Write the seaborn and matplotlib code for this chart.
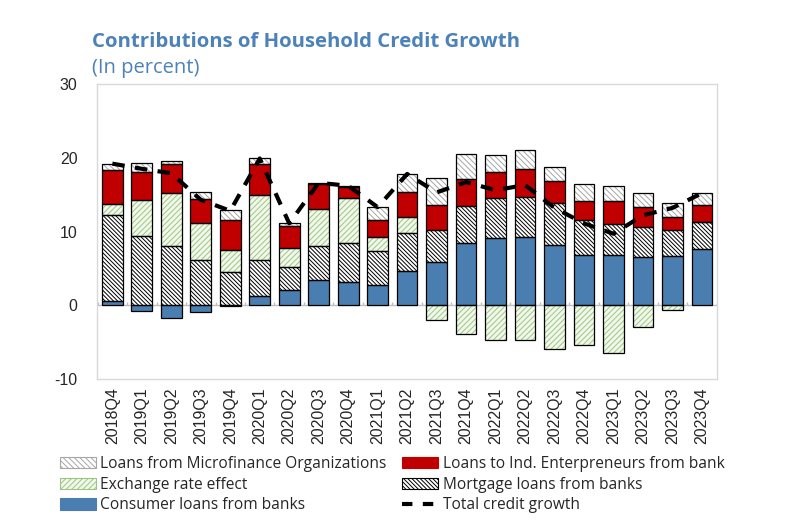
import numpy as np
import matplotlib.pyplot as plt
import seaborn as sns
from matplotlib.patches import Patch
from matplotlib.lines import Line2D

# -------------------- DATA --------------------
quarters = ["2018Q4", "2019Q1", "2019Q2", "2019Q3", "2019Q4",
            "2020Q1", "2020Q2", "2020Q3", "2020Q4",
            "2021Q1", "2021Q2", "2021Q3", "2021Q4",
            "2022Q1", "2022Q2", "2022Q3", "2022Q4",
            "2023Q1", "2023Q2", "2023Q3", "2023Q4"]

consumer = [0.6, -0.8, -1.7, -0.95, -0.1, 1.3, 2.1, 3.4, 3.15, 2.75, 4.65,
            5.8, 8.45, 9.1, 9.2, 8.2, 6.8, 6.8, 6.5, 6.7, 7.6]
mortgage = [11.6, 9.4, 8.1, 6.1, 4.55, 4.9, 3.05, 4.7, 5.35, 4.55, 5.1,
            4.4, 4.95, 5.4, 5.5, 5.7, 4.7, 4.2, 4.15, 3.5, 3.65]
exchange = [1.5, 4.9, 7.1, 5.0, 2.9, 8.8, 2.65, 5.0, 6.0, 1.9, 2.25,
            -2.0, -3.85, -4.75, -4.75, -5.95, -5.4, -6.5, -3.0, -0.65, 0.1]
ind_entrepreneurs = [4.6, 3.8, 4.0, 3.3, 4.05, 4.1, 2.9, 3.3, 1.6, 2.35, 3.3,
                     3.4, 3.7, 3.6, 3.8, 3.0, 2.6, 3.1, 2.65, 1.8, 2.3]
microfinance = [0.8, 1.2, 0.4, 0.9, 1.4, 0.8, 0.4, 0.2, 0.1, 1.75, 2.45,
                3.6, 3.4, 2.25, 2.6, 1.8, 2.3, 2.05, 1.9, 1.9, 1.6]
total = [19.2, 18.5, 17.9, 14.3, 12.8, 19.9, 11.1, 16.6, 16.2, 13.3, 17.8,
         15.3, 16.7, 15.6, 16.3, 13.2, 11.1, 9.7, 12.2, 13.2, 15.2]

# -------------------- STYLE --------------------
sns.set_theme(style="white")
plt.rcParams["font.family"] = ["Open Sans", "DejaVu Sans"]
plt.rcParams["hatch.linewidth"] = 0.7

BLUE = "#4A7EB0"
RED = "#C00000"
TITLE_BLUE = "#4C82B8"

# layer: (values, face, hatch colour, hatch, label)
layers = [
    (consumer, BLUE, BLUE, None, "Consumer loans from banks"),
    (mortgage, "white", "black", "\\" * 8, "Mortgage loans from banks"),
    (exchange, "#F1F7EA", "#9CC682", "/" * 6, "Exchange rate effect"),
    (ind_entrepreneurs, RED, RED, None, "Loans to Ind. Enterpreneurs from bank"),
    (microfinance, "white", "#A6A6A6", "\\" * 6, "Loans from Microfinance Organizations"),
]

fig = plt.figure(figsize=(7.96, 5.30), dpi=100)
ax = fig.add_axes([97 / 796, 1 - 379 / 530, 620 / 796, 295 / 530])

ax.axhline(0, color="#BFBFBF", lw=1, zorder=0)
ax.vlines(np.arange(-0.5, len(quarters)), 0, 0.45, color="#BFBFBF", lw=1, zorder=0)

# stacked bars: positive and negative parts stack separately
pos_base = np.zeros(len(quarters))
neg_base = np.zeros(len(quarters))
handles = {}
for vals, face, hcol, hatch, label in layers:
    v = np.array(vals)
    bottom = np.where(v >= 0, pos_base, neg_base)
    sns.barplot(x=quarters, y=v, bottom=bottom, ax=ax, width=0.7, color=face,
                saturation=1, facecolor=face, edgecolor=hcol, hatch=hatch,
                linewidth=0, errorbar=None, zorder=2)
    sns.barplot(x=quarters, y=v, bottom=bottom, ax=ax, width=0.7, color="black",
                saturation=1, fill=False, edgecolor="black", linewidth=0.9,
                errorbar=None, zorder=3)
    pos_base = pos_base + np.clip(v, 0, None)
    neg_base = neg_base + np.clip(v, None, 0)
    handles[label] = Patch(facecolor=face, edgecolor=hcol, hatch=hatch, linewidth=0.8)

sns.lineplot(x=np.arange(len(quarters)), y=total, ax=ax, color="black", lw=3,
             linestyle=(0, (3, 2.5)), zorder=4)
handles["Total credit growth"] = Line2D([], [], color="black", lw=3,
                                        linestyle=(0, (2.5, 2.5)))

ax.set_xlim(-0.52, 20.51)
ax.set_ylim(-10, 30)
ax.set_yticks([-10, 0, 10, 20, 30])
ax.set_yticklabels(["-10", "0", "10", "20", "30"], family="Liberation Sans", fontsize=11.5)
ax.set_xticks(np.arange(len(quarters)))
ax.set_xticklabels(quarters, rotation=90, family="Liberation Sans", fontsize=11.5)
ax.tick_params(axis="y", length=0, pad=14)
ax.tick_params(axis="x", length=0, pad=6)
ax.set_xlabel("")
ax.set_ylabel("")
for sp in ax.spines.values():
    sp.set_color("#D9D9D9")
    sp.set_linewidth(1)

fig.text(92 / 796, 1 - 47 / 530, "Contributions of Household Credit Growth",
         fontsize=14.7, fontweight="bold", color=TITLE_BLUE, va="baseline")
fig.text(92 / 796, 1 - 73 / 530, "(In percent)", fontsize=14.5, color=TITLE_BLUE,
         va="baseline")

order = ["Loans from Microfinance Organizations", "Exchange rate effect",
         "Consumer loans from banks", "Loans to Ind. Enterpreneurs from bank",
         "Mortgage loans from banks", "Total credit growth"]
fig.legend([handles[k] for k in order], order, ncol=2, frameon=False,
           loc="upper left", bbox_to_anchor=(60 / 796, 1 - 456 / 530),
           fontsize=11.2, handlelength=2.3, handleheight=0.75, handletextpad=0.3,
           labelspacing=0.3, columnspacing=1.0, borderaxespad=0, borderpad=0)

plt.savefig("out.png", dpi=100)
